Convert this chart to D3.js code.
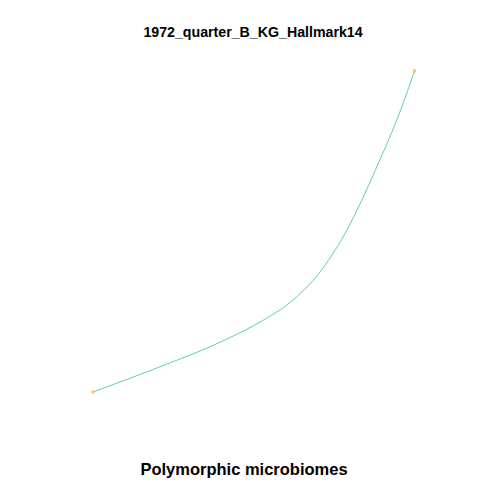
<!DOCTYPE html>
<html>
<head>
<meta charset="utf-8">
<script src="https://cdn.jsdelivr.net/npm/d3@7"></script>
<style>
  body { margin: 0; background: #fff; }
  text { font-family: "Liberation Sans", Arial, sans-serif; font-weight: bold; fill: #000; }
</style>
</head>
<body>
<div id="chart"></div>
<script>
const title = '1972_quarter_B_KG_Hallmark14';
const xLabel = 'Polymorphic microbiomes';

// in plot units (0..100 both ways)
const xValues = [0, 19.9, 40.4, 53.0, 61.3, 70.3, 78.4, 88.3, 95.7, 100];
const yValues = [0, 7.5, 15.9, 22.4, 27.9, 37.0, 49.4, 70.2, 87.9, 100];

const width = 480, height = 480;

const $svg = d3.select('#chart').append('svg')
  .attr('width', width)
  .attr('height', height);

const x = d3.scaleLinear().domain([0, 100]).range([93, 414.5]);
const y = d3.scaleLinear().domain([0, 100]).range([392, 71]);

const data = xValues.map((v, i) => ({ x: v, y: yValues[i] }));

const line = d3.line()
  .x(d => x(d.x))
  .y(d => y(d.y))
  .curve(d3.curveMonotoneX);

$svg.append('path')
  .datum(data)
  .attr('d', line)
  .attr('fill', 'none')
  .attr('stroke', '#66cdaa')
  .attr('stroke-width', 1);

// end markers
const ends = [data[0], data[data.length - 1]];
$svg.selectAll('.end')
  .data(ends)
  .enter()
  .append('rect')
  .attr('class', 'end')
  .attr('x', d => x(d.x) - 1.5)
  .attr('y', d => y(d.y) - 1.5)
  .attr('width', 3)
  .attr('height', 3)
  .attr('fill', '#f2c46e');

$svg.append('text')
  .attr('x', 253)
  .attr('y', 37)
  .attr('text-anchor', 'middle')
  .attr('font-size', 14.2)
  .text(title);

$svg.append('text')
  .attr('x', 244)
  .attr('y', 475)
  .attr('text-anchor', 'middle')
  .attr('font-size', 16.5)
  .text(xLabel);
</script>
</body>
</html>
